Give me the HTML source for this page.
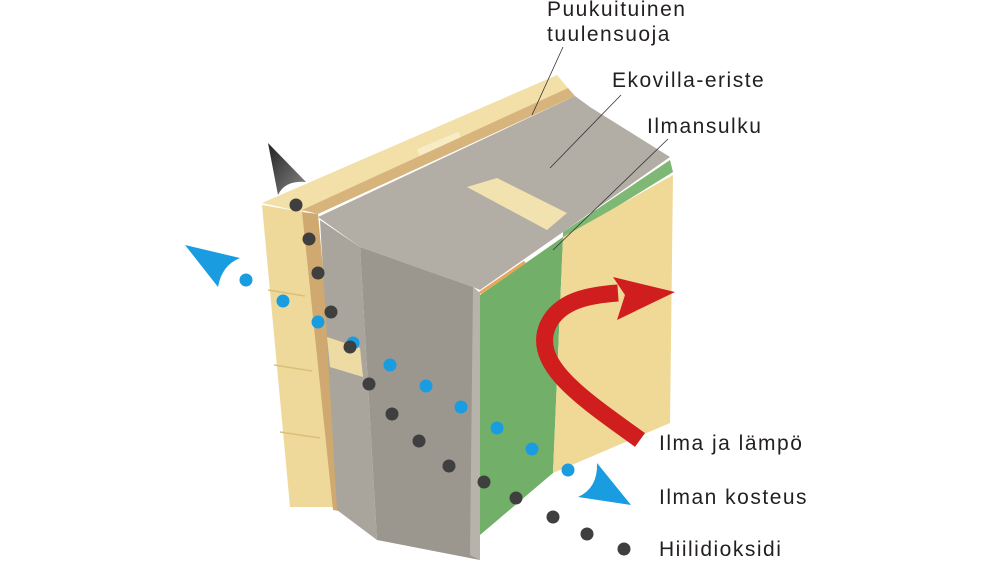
<!DOCTYPE html>
<html><head><meta charset="utf-8"><style>
html,body{margin:0;padding:0;background:#fff}
svg{display:block}
text{font-family:"Liberation Sans",sans-serif;font-size:21px;letter-spacing:1.5px;fill:#231f20}
</style></head><body>
<svg width="992" height="570" viewBox="0 0 992 570" xmlns="http://www.w3.org/2000/svg">
<defs>
<linearGradient id="ga" x1="0" y1="0" x2="1" y2="1"><stop offset="0" stop-color="#222"/><stop offset="1" stop-color="#888"/></linearGradient>
</defs>
<!-- cladding -->
<polygon points="262,203 557,75 568,88 302,212" fill="#f2e0a8"/>
<polygon points="262,205 302,212 333,507 290,507" fill="#efd99a"/>
<g stroke="#d9c07a" stroke-width="1.5">
<line x1="268" y1="290" x2="305" y2="296"/><line x1="274" y1="365" x2="312" y2="371"/><line x1="280" y1="432" x2="320" y2="438"/>
</g>
<rect x="417" y="140" width="45" height="10" fill="#f7ecc4" transform="rotate(-23 440 145)"/>
<!-- batten -->
<polygon points="302,210 568,88 575,96 318,214" fill="#d7b47c"/>
<polygon points="302,212 318,214 345,512 333,510" fill="#cfa96f"/>
<!-- insulation top -->
<polygon points="318,217 575,96 590,107 670,157 563,232 480,290 473,287 360,247" fill="#b3aea5"/>
<!-- thin left layer -->
<polygon points="320,220 360,247 377,540 337,510" fill="#aaa59c"/>
<!-- main block front -->
<polygon points="360,247 473,287 480,293 480,560 377,540" fill="#9c978e"/>
<polygon points="473,287 480,293 480,560 470,555" fill="#b8b3aa"/>
<!-- stud -->
<polygon points="467,187 497,178 567,213 547,230" fill="#f1e2b0"/>
<polygon points="327,337 360,348 363,377 330,367" fill="#eedba4"/>
<!-- green membrane -->
<polygon points="480,295 563,237 553,473 480,535" fill="#72b06a"/>
<polygon points="563,232 670,160 673,172 563,240" fill="#7fb874"/>
<line x1="480" y1="293" x2="525" y2="262" stroke="#e7a65a" stroke-width="3"/>
<!-- inner yellow board -->
<polygon points="563,237 673,175 670,423 553,473" fill="#f0d896"/>
<!-- leader lines -->
<g stroke="#333" stroke-width="0.8">
<line x1="563" y1="47" x2="532" y2="115"/>
<line x1="621" y1="95" x2="550" y2="168"/>
<line x1="668" y1="139" x2="553" y2="250"/>
</g>
<!-- red arrow -->
<path d="M640,440 C585,400 530,365 548,325 C560,300 590,295 618,293" fill="none" stroke="#d01e1e" stroke-width="17"/>
<polygon points="613,277 675,292 617,320 625,295" fill="#d01e1e"/>
<!-- arrowheads -->
<path d="M268,143 L306,182 Q285,180 278,195 Z" fill="url(#ga)"/>
<path d="M185,245 L240,258 Q222,265 218,287 Z" fill="#1a9de0"/>
<path d="M597,463 L631,505 L578,497 Q598,488 597,463 Z" fill="#1a9de0"/>
<!-- dots -->
<g fill="#1a9de0">
<circle cx="246" cy="280" r="6.5"/><circle cx="283" cy="301" r="6.5"/><circle cx="318" cy="322" r="6.5"/><circle cx="353" cy="343" r="6.5"/><circle cx="390" cy="365" r="6.5"/><circle cx="426" cy="386" r="6.5"/><circle cx="461" cy="407" r="6.5"/><circle cx="497" cy="428" r="6.5"/><circle cx="532" cy="449" r="6.5"/><circle cx="568" cy="470" r="6.5"/>
</g>
<g fill="#3f3f3f">
<circle cx="296" cy="205" r="6.5"/><circle cx="309" cy="239" r="6.5"/><circle cx="318" cy="273" r="6.5"/><circle cx="331" cy="312" r="6.5"/><circle cx="350" cy="347" r="6.5"/><circle cx="369" cy="384" r="6.5"/><circle cx="392" cy="414" r="6.5"/><circle cx="419" cy="441" r="6.5"/><circle cx="449" cy="466" r="6.5"/><circle cx="484" cy="482" r="6.5"/><circle cx="516" cy="498" r="6.5"/><circle cx="553" cy="517" r="6.5"/><circle cx="587" cy="534" r="6.5"/><circle cx="624" cy="549" r="6.5"/>
</g>
<!-- labels -->
<text x="547" y="16">Puukuituinen</text>
<text x="547" y="41">tuulensuoja</text>
<text x="612" y="87">Ekovilla-eriste</text>
<text x="647" y="133">Ilmansulku</text>
<text x="659" y="450">Ilma ja lämpö</text>
<text x="659" y="504">Ilman kosteus</text>
<text x="659" y="556">Hiilidioksidi</text>
</svg>
</body></html>
